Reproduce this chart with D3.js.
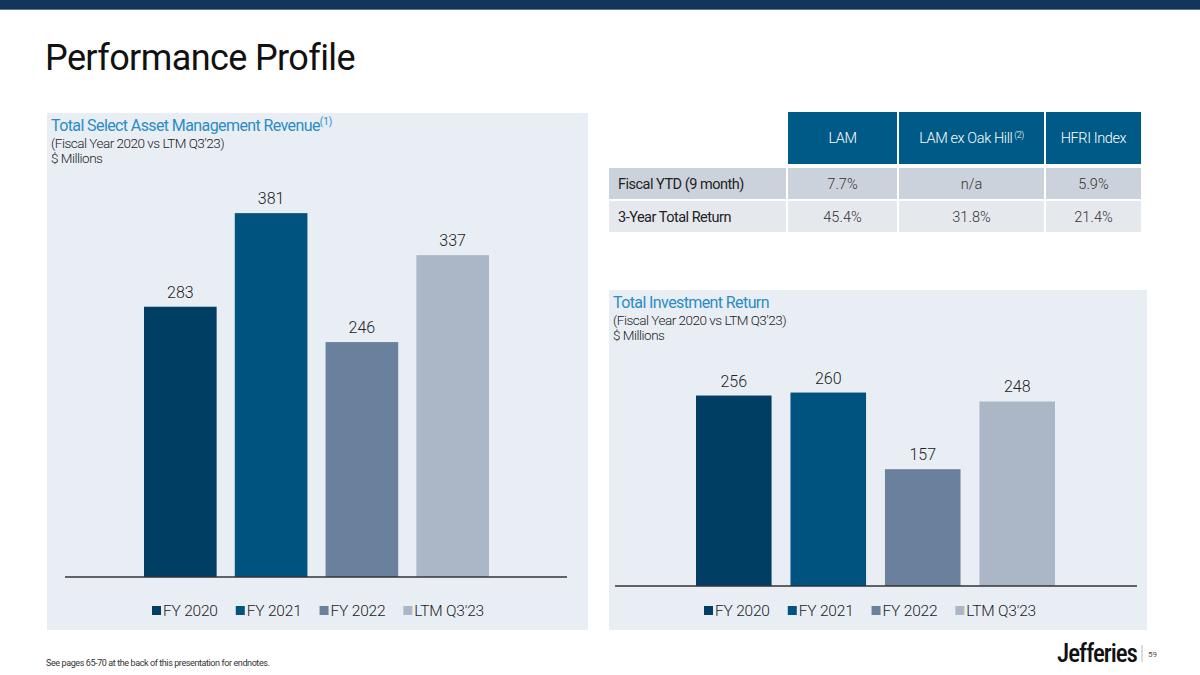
<!DOCTYPE html>
<html>
<head>
<meta charset="utf-8">
<script src="https://cdn.jsdelivr.net/npm/d3@7"></script>
<style>
  html, body { margin: 0; padding: 0; background: #fff; }
  svg { display: block; font-family: Roboto, "Noto Sans", sans-serif; }
</style>
</head>
<body>
<svg id="chart" width="1200" height="675"></svg>
<script>
// ---- data ----
const categories = ["FY 2020", "FY 2021", "FY 2022", "LTM Q3'23"];
const revenueValues = [283, 381, 246, 337];
const investmentValues = [256, 260, 157, 248];
const tableColumns = ["LAM", "LAM ex Oak Hill", "HFRI Index"];
const tableColumnNotes = ["", "(2)", ""];
const tableRowLabels = ["Fiscal YTD (9 month)", "3-Year Total Return"];
const fiscalYTDValues = ["7.7%", "n/a", "5.9%"];
const threeYearValues = ["45.4%", "31.8%", "21.4%"];
const seriesColors = ["#003f63", "#00527f", "#6a819e", "#abb7c6"];

const svg = d3.select("#chart");

// top band
svg.append("rect").attr("x", 0).attr("y", 0).attr("width", 1200).attr("height", 9).attr("fill", "#13355b");
svg.append("rect").attr("x", 0).attr("y", 9).attr("width", 1200).attr("height", 1).attr("fill", "#5d7896");

// title
svg.append("text").attr("x", 45).attr("y", 70).attr("font-size", 36).attr("fill", "#111")
  .attr("letter-spacing", -0.6).text("Performance Profile");

const color = d3.scaleOrdinal().domain(categories).range(seriesColors);

function panel(cfg) {
  const g = svg.append("g");
  g.append("rect").attr("x", cfg.px).attr("y", cfg.py).attr("width", cfg.pw).attr("height", cfg.ph)
    .attr("fill", "#e9eef5");
  const t = g.append("text").attr("x", cfg.px + 4).attr("y", cfg.py + 18).attr("font-size", 16)
    .attr("fill", "#2a8cc4").attr("letter-spacing", -0.6).text(cfg.title);
  if (cfg.note) {
    t.append("tspan").attr("font-size", 10).attr("dy", -6).attr("letter-spacing", 0).text(cfg.note);
  }
  g.append("text").attr("x", cfg.px + 4).attr("y", cfg.py + 35).attr("font-size", 13.5)
    .attr("font-weight", 300).attr("fill", "#222").attr("letter-spacing", -0.5).text("(Fiscal Year 2020 vs LTM Q3\u201923)");
  g.append("text").attr("x", cfg.px + 4).attr("y", cfg.py + 50).attr("font-size", 13.5)
    .attr("font-weight", 300).attr("fill", "#222").attr("letter-spacing", -0.5).text("$ Millions");

  const x = d3.scaleBand().domain(categories).range(cfg.xRange).paddingInner(0.2).paddingOuter(0);
  const y = d3.scaleLinear().domain(cfg.yDomain).range(cfg.yRange);
  const data = categories.map((c, i) => ({ c, v: cfg.values[i] }));

  g.selectAll("rect.bar").data(data).join("rect").attr("class", "bar")
    .attr("x", d => x(d.c)).attr("width", x.bandwidth())
    .attr("y", d => y(d.v)).attr("height", d => y(0) - y(d.v))
    .attr("fill", d => color(d.c));

  g.selectAll("text.val").data(data).join("text").attr("class", "val")
    .attr("x", d => x(d.c) + x.bandwidth() / 2).attr("y", d => y(d.v) - 9)
    .attr("text-anchor", "middle").attr("font-size", 16).attr("font-weight", 300).attr("fill", "#222")
    .text(d => d.v);

  const axis = d3.axisBottom(x).tickSize(0).tickFormat("");
  const ag = g.append("g").attr("transform", `translate(0,${y(0)})`).call(axis);
  ag.select(".domain").remove();
  ag.append("line").attr("x1", cfg.axisX[0]).attr("x2", cfg.axisX[1]).attr("y1", 0).attr("y2", 0)
    .attr("stroke", "#333").attr("stroke-width", 1.3);

  // legend
  const lg = g.append("g");
  let cx = 0;
  categories.forEach((c, i) => {
    const it = lg.append("g");
    it.append("rect").attr("x", cx).attr("y", -10).attr("width", 9).attr("height", 9).attr("fill", color(c));
    const tx = it.append("text").attr("x", cx + 11).attr("y", 0).attr("font-size", 15.5).attr("font-weight", 300)
      .attr("fill", "#222").attr("letter-spacing", -0.2).text(c);
    cx += 11 + tx.node().getComputedTextLength() + 18;
  });
  const totalW = cx - 18;
  lg.attr("transform", `translate(${cfg.legendCx - totalW / 2},${cfg.legendY})`);
}

panel({
  px: 47, py: 113, pw: 541, ph: 517,
  title: "Total Select Asset Management Revenue", note: "(1)",
  values: revenueValues,
  xRange: [144, 489], yDomain: [0, 400], yRange: [577, 195],
  axisX: [65, 567], legendCx: 318, legendY: 616
});

panel({
  px: 609, py: 290, pw: 538, ph: 340,
  title: "Total Investment Return", note: null,
  values: investmentValues,
  xRange: [696, 1055], yDomain: [0, 300], yRange: [586, 362.8],
  axisX: [615, 1137], legendCx: 870, legendY: 616
});

// table
const colX = [609, 788, 899, 1046, 1143];
const tg = svg.append("g");
const hdrTop = 112, hdrH = 52;
tableColumns.forEach((c, i) => {
  tg.append("rect").attr("x", colX[i + 1]).attr("y", hdrTop).attr("width", colX[i + 2] - colX[i + 1] - 2)
    .attr("height", hdrH).attr("fill", "#005a87");
  const t = tg.append("text").attr("x", (colX[i + 1] + colX[i + 2] - 2) / 2).attr("y", hdrTop + hdrH / 2 + 5)
    .attr("text-anchor", "middle").attr("font-size", 14.5).attr("font-weight", 300).attr("fill", "#fff")
    .attr("letter-spacing", -0.4).text(c);
  if (tableColumnNotes[i]) t.append("tspan").attr("font-size", 9).attr("dy", -5).text(" " + tableColumnNotes[i]);
});
const rows = [
  { label: tableRowLabels[0], vals: fiscalYTDValues, top: 168, h: 31, fill: "#ccd2dc" },
  { label: tableRowLabels[1], vals: threeYearValues, top: 201, h: 31, fill: "#e5e8ed" }
];
rows.forEach(r => {
  for (let i = 0; i < 4; i++) {
    tg.append("rect").attr("x", colX[i]).attr("y", r.top).attr("width", colX[i + 1] - colX[i] - 2)
      .attr("height", r.h).attr("fill", r.fill);
  }
  tg.append("text").attr("x", 618).attr("y", r.top + r.h / 2 + 5).attr("font-size", 14.5).attr("fill", "#222")
    .attr("letter-spacing", -0.5).text(r.label);
  r.vals.forEach((v, i) => {
    tg.append("text").attr("x", (colX[i + 1] + colX[i + 2] - 2) / 2).attr("y", r.top + r.h / 2 + 5)
      .attr("text-anchor", "middle").attr("font-size", 14.5).attr("font-weight", 300).attr("fill", "#333").text(v);
  });
});

// footer
svg.append("text").attr("x", 46).attr("y", 666).attr("font-size", 9).attr("fill", "#333")
  .attr("letter-spacing", -0.4).text("See pages 65-70 at the back of this presentation for endnotes.");
svg.append("text").attr("x", 1137).attr("y", 662).attr("text-anchor", "end").attr("font-size", 25)
  .attr("font-family", "'Roboto Condensed', Roboto, sans-serif").attr("font-weight", 500)
  .attr("letter-spacing", -1).attr("fill", "#111").text("Jefferies");
svg.append("line").attr("x1", 1142).attr("x2", 1142).attr("y1", 645).attr("y2", 662).attr("stroke", "#bbb");
svg.append("text").attr("x", 1148).attr("y", 657).attr("font-size", 8).attr("fill", "#555").text("59");
</script>
</body>
</html>
